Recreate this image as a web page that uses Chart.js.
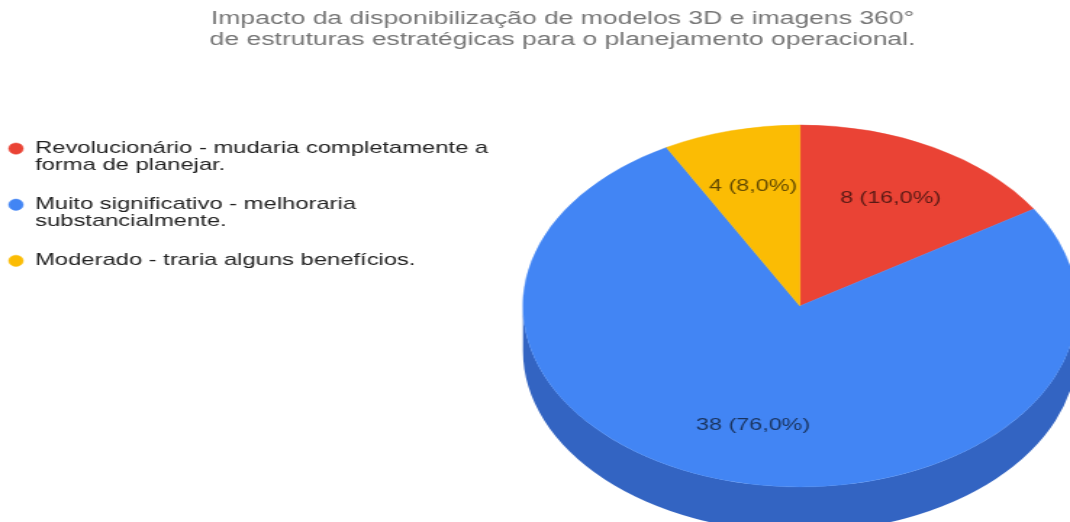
<!DOCTYPE html>
<html>
<head>
<meta charset="utf-8">
<script src="https://cdn.jsdelivr.net/npm/chart.js@4.4.0/dist/chart.umd.min.js"></script>
<style>
  html, body { margin: 0; padding: 0; background: #fff; overflow: hidden; }
</style>
</head>
<body>
<!-- drawn 738px wide and shown 1070px wide: the reference is stretched sideways -->
<canvas id="chart" width="738" height="522" style="display:block;width:1070px;height:522px"></canvas>
<script>
const TITLE = [
  "Impacto da disponibilização de modelos 3D e imagens 360°",
  "de estruturas estratégicas para o planejamento operacional."
];
const categories = [
  ["Revolucionário - mudaria completamente a", "forma de planejar."],
  ["Muito significativo - melhoraria", "substancialmente."],
  ["Moderado - traria alguns benefícios."]
];
const responses = [8, 38, 4];
const sliceColors = ["#ea4335", "#4285f4", "#fbbc04"];
const sideColors = ["#b3352b", "#3364c2", "#c29204"];

const FONT = "'Liberation Sans', Arial, sans-serif";

// where the tilted pie sits (canvas units, before the css stretch)
const PIE_X = 551.7;
const PIE_Y = 306;
const PIE_RX = 191;
const PIE_RY = 181;
const PIE_DEPTH = 45;
const LABEL_POS = 0.68;

const total = responses.reduce((a, b) => a + b, 0);

const formatLabel = (v) => `${v} (${(v / total * 100).toFixed(1).replace(".", ",")}%)`;

const pie3d = {
  id: "pie3d",
  beforeDatasetsDraw(chart) {
    const ctx = chart.ctx;
    const arcs = chart.getDatasetMeta(0).data;
    const { x: cx, y: cy, outerRadius: r } = arcs[0];

    ctx.save();
    // squash the library's circle into the ellipse of the reference
    ctx.translate(PIE_X, PIE_Y);
    ctx.scale(PIE_RX / r, PIE_RY / r);
    ctx.translate(-cx, -cy);

    const dep = PIE_DEPTH * r / PIE_RY;
    arcs.forEach((arc, i) => {
      const a0 = Math.max(arc.startAngle, 0);
      const a1 = Math.min(arc.endAngle, Math.PI);
      if (a1 <= a0) return;
      ctx.beginPath();
      ctx.arc(cx, cy, r, a0, a1);
      ctx.arc(cx, cy + dep, r, a1, a0, true);
      ctx.closePath();
      ctx.fillStyle = sideColors[i];
      ctx.fill();
    });
  },
  afterDatasetsDraw(chart) {
    const ctx = chart.ctx;
    ctx.restore();

    const arcs = chart.getDatasetMeta(0).data;
    ctx.save();
    ctx.font = `16.1px ${FONT}`;
    ctx.fillStyle = "rgba(0, 0, 0, 0.62)";
    ctx.textAlign = "center";
    ctx.textBaseline = "middle";
    arcs.forEach((arc, i) => {
      const mid = (arc.startAngle + arc.endAngle) / 2;
      const x = PIE_X + Math.cos(mid) * LABEL_POS * PIE_RX;
      const y = PIE_Y + Math.sin(mid) * LABEL_POS * PIE_RY;
      ctx.fillText(formatLabel(responses[i]), x, y);
    });
    ctx.restore();
  }
};

Chart.defaults.font.family = FONT;

new Chart(document.getElementById("chart"), {
  type: "pie",
  data: {
    labels: categories,
    datasets: [{
      data: responses,
      backgroundColor: sliceColors,
      borderColor: sliceColors,
      borderWidth: 0.5,
      clip: false
    }]
  },
  options: {
    responsive: false,
    devicePixelRatio: 1,
    animation: false,
    events: [],
    layout: { padding: { left: -16, right: -54, top: 0, bottom: 0 } },
    plugins: {
      title: {
        display: true,
        text: TITLE,
        color: "#757575",
        font: { size: 18.3, weight: "normal", lineHeight: 1.2 },
        padding: { top: 7.5, bottom: 67 }
      },
      legend: {
        position: "left",
        align: "start",
        fullSize: false,
        labels: {
          usePointStyle: true,
          pointStyle: "circle",
          pointStyleWidth: 10,
          boxHeight: 8,
          padding: 22,
          color: "#222222",
          font: { size: 16.4, lineHeight: 1.04 }
        }
      },
      tooltip: { enabled: false }
    }
  },
  plugins: [pie3d]
});
</script>
</body>
</html>
